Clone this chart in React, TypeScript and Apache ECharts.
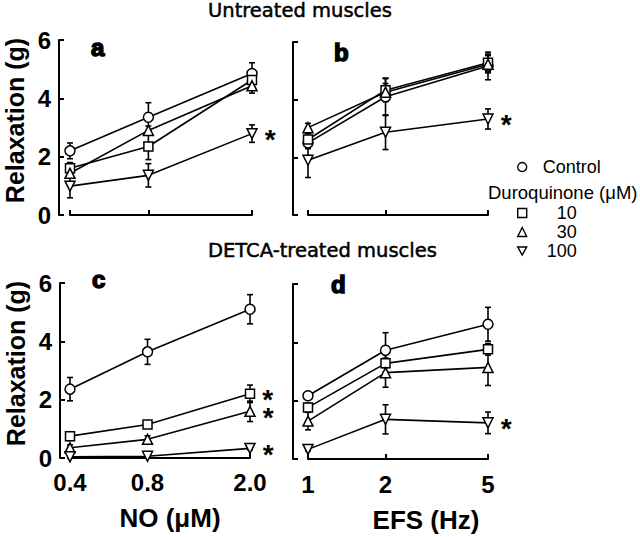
import React, { useEffect, useRef } from 'react';
import * as echarts from 'echarts';

// ---------- data ----------
const xNO = [0.4, 0.8, 2.0];
const xNOLabels = ['0.4', '0.8', '2.0'];
const xEFS = [1, 2, 5];
const xEFSLabels = ['1', '2', '5'];
const yTicks = [0, 2, 4, 6];
const groupNames = ['Control', '10', '30', '100'];

// Panel a: untreated, NO
const ctrlA = [2.2, 3.35, 4.85];
const ctrlAErr = [0.27, 0.5, 0.37];
const d10A = [1.6, 2.35, 4.63];
const d10AErr = [0.2, 0.45, 0.2];
const d30A = [1.43, 2.9, 4.43];
const d30AErr = [0.15, 0.15, 0.25];
const d100A = [0.99, 1.36, 2.79];
const d100AErr = [0.4, 0.4, 0.3];
const sigA = [false, false, false, true];

// Panel b: untreated, EFS
const ctrlB = [2.5, 4.1, 5.17];
const ctrlBErr = [0.2, 0.65, 0.48];
const d10B = [2.62, 4.33, 5.28];
const d10BErr = [0.2, 0.4, 0.3];
const d30B = [3.03, 4.26, 5.23];
const d30BErr = [0.15, 0.3, 0.3];
const d100B = [1.9, 2.87, 3.33];
const d100BErr = [0.6, 0.6, 0.35];
const sigB = [false, false, false, true];

// Panel c: DETCA, NO
const ctrlC = [2.36, 3.64, 5.1];
const ctrlCErr = [0.4, 0.43, 0.5];
const d10C = [0.75, 1.15, 2.2];
const d10CErr = [0.15, 0.1, 0.3];
const d30C = [0.35, 0.64, 1.6];
const d30CErr = [0.1, 0.12, 0.35];
const d100C = [0.04, 0.06, 0.33];
const d100CErr = [0.05, 0.05, 0.05];
const sigC = [false, true, true, true];

// Panel d: DETCA, EFS
const ctrlD = [2.17, 3.73, 4.62];
const ctrlDErr = [0.1, 0.6, 0.58];
const d10D = [1.77, 3.28, 3.76];
const d10DErr = [0.15, 0.3, 0.2];
const d30D = [1.3, 2.96, 3.14];
const d30DErr = [0.3, 0.5, 0.62];
const d100D = [0.33, 1.36, 1.24];
const d100DErr = [0.05, 0.5, 0.37];
const sigD = [false, false, false, true];

const FONT = 'Liberation Sans';

const panels = [
  { x: xNO, labels: xNOLabels, means: [ctrlA, d10A, d30A, d100A], errs: [ctrlAErr, d10AErr, d30AErr, d100AErr], sig: sigA,
    grid: { left: 70, top: 40, width: 182, height: 175 }, yOff: 11, xOff: 5, showY: true, showX: false, xName: '', xShift: 0 },
  { x: xEFS, labels: xEFSLabels, means: [ctrlB, d10B, d30B, d100B], errs: [ctrlBErr, d10BErr, d30BErr, d100BErr], sig: sigB,
    grid: { left: 308, top: 42, width: 180, height: 173 }, yOff: 15, xOff: 4, showY: false, showX: false, xName: '', xShift: 0 },
  { x: xNO, labels: xNOLabels, means: [ctrlC, d10C, d30C, d100C], errs: [ctrlCErr, d10CErr, d30CErr, d100CErr], sig: sigC,
    grid: { left: 70, top: 283, width: 180, height: 175 }, yOff: 10, xOff: 7, showY: true, showX: true, xName: 'NO (μM)', xShift: 20 },
  { x: xEFS, labels: xEFSLabels, means: [ctrlD, d10D, d30D, d100D], errs: [ctrlDErr, d10DErr, d30DErr, d100DErr], sig: sigD,
    grid: { left: 308, top: 284, width: 180, height: 175 }, yOff: 15, xOff: 8, showY: false, showX: true, xName: 'EFS (Hz)', xShift: 56 },
];

const symbols = ['circle', 'rect', 'triangle', 'triangle'];
const rotations = [0, 0, 0, 180];
const symbolSizes = [10, 9, 10, 10];

export default function App() {
  const ref = useRef<HTMLDivElement>(null);
  useEffect(() => {
    document.body.style.margin = '0';
    if (!ref.current) return;
    const chart = echarts.init(ref.current, null, { renderer: 'svg' });

    const axisLineStyle = { color: '#000', width: 2 };

    const grids = panels.map((p) => ({ ...p.grid, containLabel: false, outerBoundsMode: 'none' }));

    const xAxes = panels.map((p, i) => ({
      type: 'log',
      logBase: 10,
      gridIndex: i,
      min: p.x[0],
      max: p.x[p.x.length - 1],
      offset: p.xOff,
      axisLine: { show: true, lineStyle: axisLineStyle },
      axisTick: { show: true, inside: true, length: 5, lineStyle: axisLineStyle, customValues: p.x },
      minorTick: { show: false },
      splitLine: { show: false },
      minorSplitLine: { show: false },
      axisLabel: {
        show: p.showX,
        customValues: p.x,
        margin: 5,
        fontSize: 24,
        fontWeight: 'bold',
        fontFamily: FONT,
        color: '#000',
        formatter: (v: number) => {
          let best = 0;
          p.x.forEach((xv, k) => { if (Math.abs(xv - v) < Math.abs(p.x[best] - v)) best = k; });
          return p.labels[best];
        },
      },
      name: p.xName,
      nameLocation: 'middle',
      nameGap: 40,
      nameTextStyle: { fontSize: 26, fontWeight: 'bold', fontFamily: FONT, color: '#000', padding: [0, 0, 0, p.xShift] },
    }));

    const yAxes = panels.map((p, i) => ({
      type: 'value',
      gridIndex: i,
      min: yTicks[0],
      max: yTicks[yTicks.length - 1],
      interval: 2,
      offset: p.yOff,
      axisLine: { show: true, lineStyle: axisLineStyle },
      axisTick: { show: true, inside: true, length: 5, lineStyle: axisLineStyle },
      splitLine: { show: false },
      axisLabel: { show: p.showY, margin: 8, fontSize: 24, fontWeight: 'bold', fontFamily: FONT, color: '#000' },
      name: p.showY ? 'Relaxation (g)' : '',
      nameLocation: 'middle',
      nameGap: 32,
      nameTextStyle: { fontSize: 25, fontWeight: 'bold', fontFamily: FONT, color: '#000', padding: [0, 0, 0, 14] },
    }));

    const series: any[] = [];
    panels.forEach((p, i) => {
      p.means.forEach((m, g) => {
        const e = p.errs[g];
        series.push({
          type: 'custom',
          xAxisIndex: i,
          yAxisIndex: i,
          silent: true,
          z: 1,
          encode: { x: 0, y: [1, 2] },
          data: p.x.map((xv, k) => [xv, m[k] - e[k], m[k] + e[k]]),
          renderItem: (params: any, api: any) => {
            const xv = api.value(0);
            const lo = api.coord([xv, api.value(1)]);
            const hi = api.coord([xv, api.value(2)]);
            const w = 3;
            const style = { stroke: '#000', lineWidth: 1.6 };
            return {
              type: 'group',
              children: [
                { type: 'line', shape: { x1: lo[0], y1: lo[1], x2: hi[0], y2: hi[1] }, style },
                { type: 'line', shape: { x1: hi[0] - w, y1: hi[1], x2: hi[0] + w, y2: hi[1] }, style },
                { type: 'line', shape: { x1: lo[0] - w, y1: lo[1], x2: lo[0] + w, y2: lo[1] }, style },
              ],
            };
          },
        });
        series.push({
          type: 'line',
          name: groupNames[g],
          xAxisIndex: i,
          yAxisIndex: i,
          clip: false,
          z: 3,
          symbol: symbols[g],
          symbolRotate: rotations[g],
          symbolSize: symbolSizes[g],
          showAllSymbol: true,
          lineStyle: { color: '#000', width: 1.6 },
          itemStyle: { color: '#fff', borderColor: '#000', borderWidth: 1.5 },
          data: p.x.map((xv, k) => {
            if (k === p.x.length - 1 && p.sig[g]) {
              return {
                value: [xv, m[k]],
                label: {
                  show: true,
                  position: 'right',
                  distance: 7,
                  formatter: '*',
                  fontSize: 28,
                  lineHeight: 14,
                  fontWeight: 'bold',
                  fontFamily: FONT,
                  color: '#000',
                  offset: [0, 6],
                },
              };
            }
            return [xv, m[k]];
          }),
        });
      });
    });

    const legendText = { fontSize: 18, fontFamily: FONT, color: '#000' };
    const legendItemStyle = { color: '#fff', borderColor: '#000', borderWidth: 1.4 };
    const titleStyle = { fontFamily: 'DejaVu Sans', fontSize: 19.5, fontWeight: 'normal', color: '#000', textBorderColor: '#000', textBorderWidth: 0.5 };
    const letterStyle = { fontFamily: FONT, fontSize: 24, fontWeight: 'bold', color: '#000', textBorderColor: '#000', textBorderWidth: 1.5 };

    chart.setOption({
      animation: false,
      backgroundColor: '#fff',
      grid: grids,
      xAxis: xAxes,
      yAxis: yAxes,
      series,
      title: [
        { text: 'Untreated muscles', left: 208, top: 0, padding: 0, textStyle: titleStyle },
        { text: 'DETCA-treated muscles', left: 208, top: 240, padding: 0, textStyle: titleStyle },
        { text: 'Duroquinone (μM)', left: 488, top: 183, padding: 0, textStyle: { ...legendText, fontSize: 18.5, fontWeight: 'normal' } },
        { text: 'a', left: 91, top: 35, padding: 0, textStyle: letterStyle },
        { text: 'b', left: 334, top: 40, padding: 0, textStyle: letterStyle },
        { text: 'c', left: 92, top: 267, padding: 0, textStyle: letterStyle },
        { text: 'd', left: 331, top: 272, padding: 0, textStyle: letterStyle },
      ],
      legend: [
        {
          data: [{ name: groupNames[0], icon: 'circle' }],
          left: 517,
          top: 158,
          padding: 0,
          itemWidth: 9,
          itemHeight: 9,
          selectedMode: false,
          itemStyle: legendItemStyle,
          textStyle: { ...legendText, rich: { c: { ...legendText, padding: [0, 0, 0, 11] } } },
          formatter: '{c|{name}}',
        },
        {
          data: [
            { name: groupNames[1], icon: 'rect' },
            { name: groupNames[2], icon: 'triangle' },
            { name: groupNames[3], icon: 'path://M0,0L10,0L5,9Z' },
          ],
          orient: 'vertical',
          left: 517,
          top: 204,
          padding: 0,
          itemGap: 1,
          itemWidth: 9,
          itemHeight: 9,
          selectedMode: false,
          itemStyle: legendItemStyle,
          textStyle: { ...legendText, rich: { n: { ...legendText, width: 45, align: 'right' } } },
          formatter: '{n|{name}}',
        },
      ],
    });
    return () => chart.dispose();
  }, []);
  return <div ref={ref} style={{ width: 640, height: 537 }} />;
}
